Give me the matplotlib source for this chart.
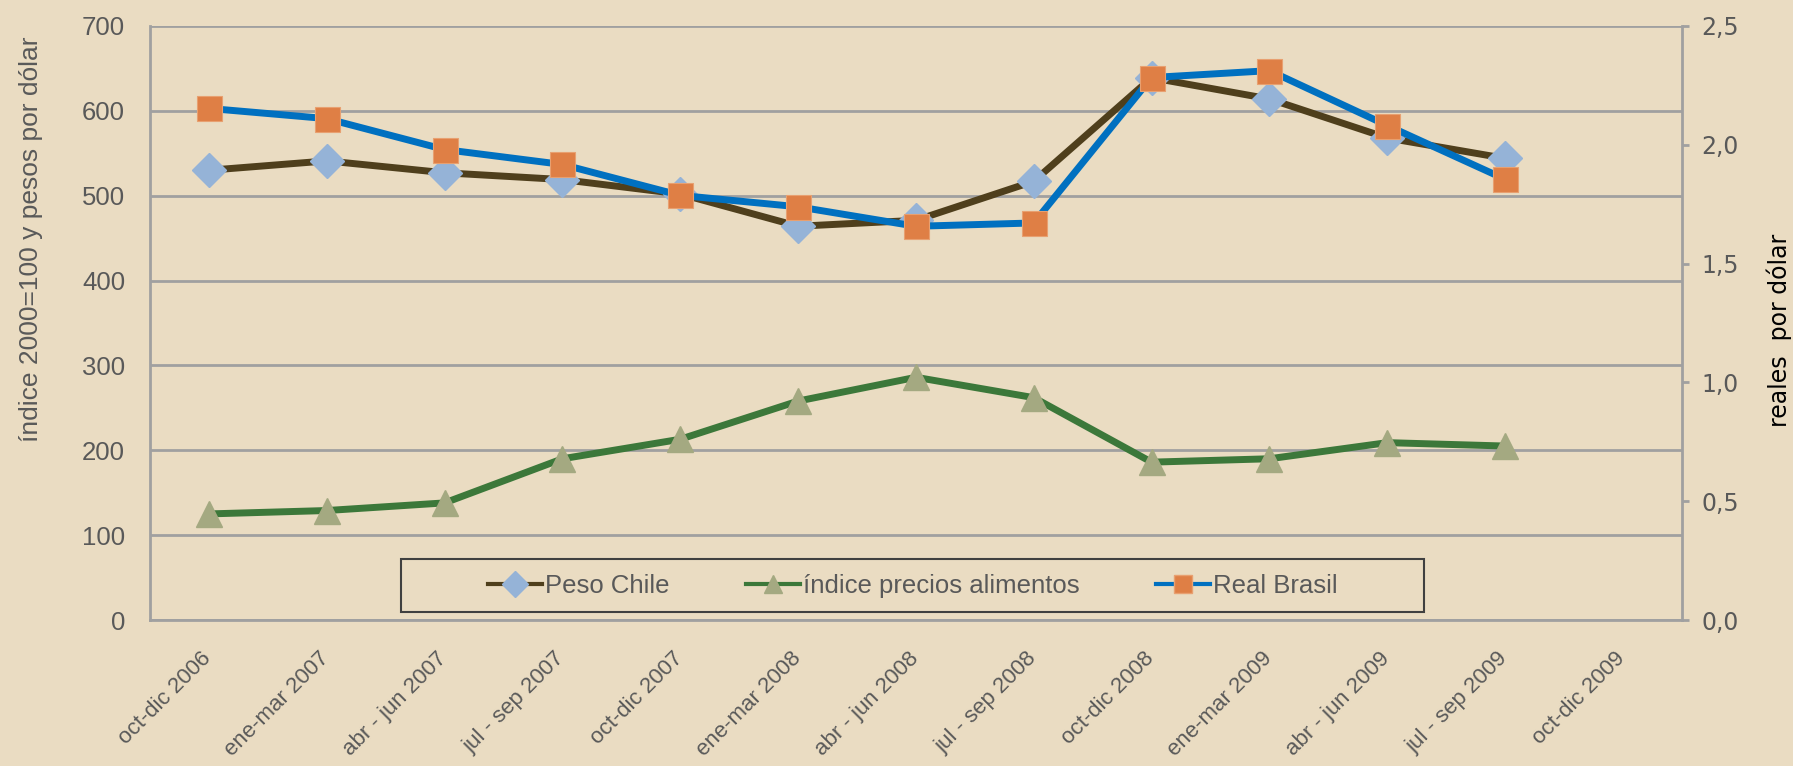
import matplotlib
matplotlib.use("Agg")
import matplotlib.pyplot as plt
from matplotlib.lines import Line2D
from matplotlib.patches import Rectangle
from matplotlib.ticker import FuncFormatter, MultipleLocator
from matplotlib.transforms import ScaledTranslation

categories = ["oct-dic 2006", "ene-mar 2007", "abr - jun 2007", "jul - sep 2007",
              "oct-dic 2007", "ene-mar 2008", "abr - jun 2008", "jul - sep 2008",
              "oct-dic 2008", "ene-mar 2009", "abr - jun 2009", "jul - sep 2009",
              "oct-dic 2009"]
peso_chile = [530, 541, 527, 519, 502, 464, 471, 517, 639, 614, 568, 544]
indice_alimentos = [125, 129, 138, 190, 213, 258, 286, 262, 186, 190, 209, 205]
real_brasil = [2.153, 2.110, 1.980, 1.917, 1.787, 1.739, 1.657, 1.671, 2.283, 2.312, 2.081, 1.855]
series_names = ["Peso Chile", "índice precios alimentos", "Real Brasil"]

BG = "#EADCC2"
GRID = "#A0A0A0"
TXT = "#595959"
styles = [
    dict(color="#4F3F1C", marker="D", mfc="#95B3D7", mec="#95B3D7"),
    dict(color="#3C783A", marker="^", mfc="#A4A981", mec="#A4A981"),
    dict(color="#0070C0", marker="s", mfc="#DF7F45", mec="#E8A070"),
]

fig = plt.figure(figsize=(17.93, 7.66), dpi=100, facecolor=BG)
ax = fig.add_axes([0.0837, 0.1906, 0.8543, 0.7755])
ax.set_facecolor(BG)
ax2 = ax.twinx()

x = list(range(len(categories)))
n = len(peso_chile)

ax.plot(x[:n], peso_chile, lw=5, markersize=17, zorder=3, **styles[0])
ax.plot(x[:n], indice_alimentos, lw=5, markersize=19, zorder=3, **styles[1])
ax2.plot(x[:n], real_brasil, lw=5, markersize=18, markeredgewidth=0.8, zorder=3, **styles[2])

ax.set_xlim(-0.5, len(categories) - 0.5)
ax.set_ylim(0, 700)
ax2.set_ylim(0, 2.5)
ax.yaxis.set_major_locator(MultipleLocator(100))
ax2.yaxis.set_major_locator(MultipleLocator(0.5))
ax2.yaxis.set_major_formatter(FuncFormatter(lambda v, p: f"{v:.1f}".replace(".", ",")))

ax.grid(axis="y", color=GRID, lw=2)
ax.set_axisbelow(True)
for a in (ax, ax2):
    for s in a.spines.values():
        s.set_visible(False)
for a, side in ((ax, "left"), (ax, "bottom"), (ax2, "right")):
    a.spines[side].set_visible(True)
    a.spines[side].set_color(GRID)
    a.spines[side].set_linewidth(2)

ax.set_xticks(x)
ax.set_xticklabels(categories, rotation=45, ha="right", rotation_mode="anchor",
                   fontsize=16, color=TXT, fontfamily="Liberation Sans")
ax.tick_params(axis="x", length=0, pad=20)
shift = ScaledTranslation(-8 / 100, 0, fig.dpi_scale_trans)
for t in ax.get_xticklabels():
    t.set_transform(t.get_transform() + shift)
ax.tick_params(axis="y", length=0, labelsize=18.5, labelcolor=TXT, pad=18)
for t in ax.get_yticklabels():
    t.set_fontfamily("Liberation Sans")
ax2.tick_params(axis="y", length=5, width=2, color=GRID, labelsize=17, labelcolor=TXT, pad=9)
for t in ax2.get_yticklabels():
    t.set_fontfamily("DejaVu Sans")

fig.text(31 / 1793, 1 - 239 / 766, "índice 2000=100 y pesos por dólar", rotation=90,
         ha="center", va="center", fontsize=19, color=TXT, fontfamily="Liberation Sans")
fig.text(1779 / 1793, 1 - 330 / 766, "reales  por dólar", rotation=90,
         ha="center", va="center", fontsize=17, color="black", fontfamily="DejaVu Sans")

frame = Rectangle((0.1638, 0.0135), 0.832 - 0.1638, 0.1027 - 0.0135, transform=ax2.transAxes,
                  facecolor=BG, edgecolor="#404040", lw=1.5, zorder=5)
ax2.add_patch(frame)
handles = [Line2D([], [], lw=3, markersize=13, **st) for st in styles]
leg = ax2.legend(handles=handles, labels=series_names, loc="center",
                 bbox_to_anchor=(0.498, 0.058), ncol=3,
                 frameon=False, prop={"family": "Liberation Sans", "size": 18.5},
                 handlelength=2.1, handletextpad=0.1, columnspacing=3.0)
leg.set_zorder(6)
for t in leg.get_texts():
    t.set_color(TXT)

fig.savefig("out.png", dpi=100, facecolor=BG)
